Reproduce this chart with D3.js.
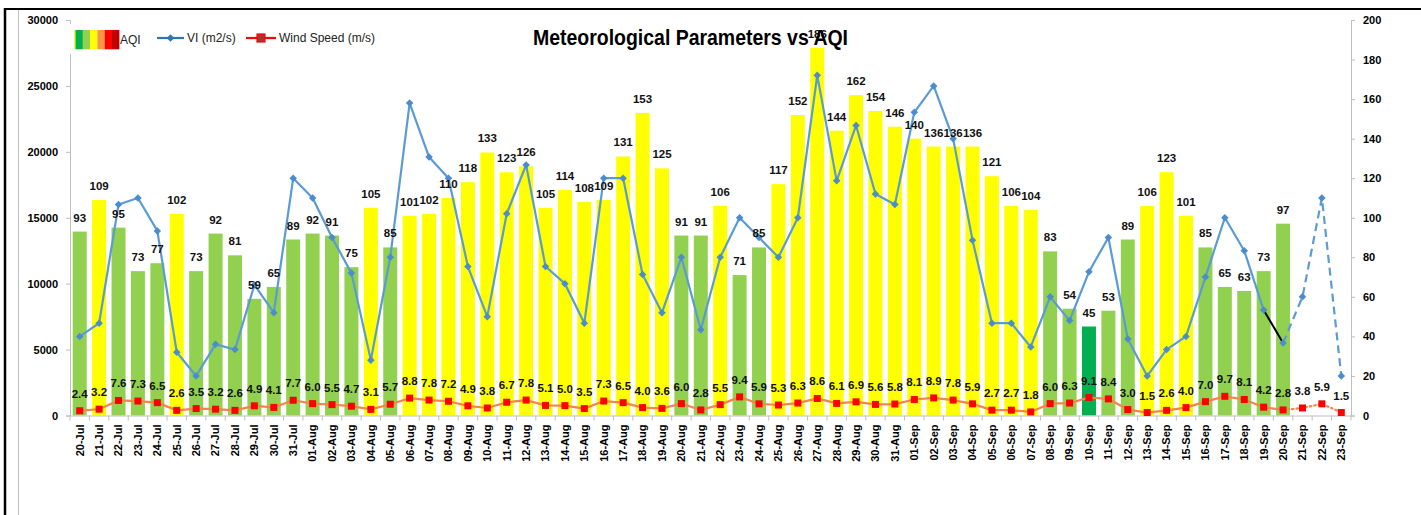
<!DOCTYPE html>
<html><head><meta charset="utf-8">
<script src="https://cdn.jsdelivr.net/npm/d3@7"></script>
<style>body{margin:0;background:#fff}svg{display:block}</style>
</head><body><svg id="c" width="1421" height="515"></svg>
<script>
const dates = ["20-Jul","21-Jul","22-Jul","23-Jul","24-Jul","25-Jul","26-Jul","27-Jul","28-Jul","29-Jul","30-Jul","31-Jul",
"01-Aug","02-Aug","03-Aug","04-Aug","05-Aug","06-Aug","07-Aug","08-Aug","09-Aug","10-Aug","11-Aug","12-Aug","13-Aug","14-Aug","15-Aug","16-Aug","17-Aug","18-Aug","19-Aug","20-Aug","21-Aug","22-Aug","23-Aug","24-Aug","25-Aug","26-Aug","27-Aug","28-Aug","29-Aug","30-Aug","31-Aug",
"01-Sep","02-Sep","03-Sep","04-Sep","05-Sep","06-Sep","07-Sep","08-Sep","09-Sep","10-Sep","11-Sep","12-Sep","13-Sep","14-Sep","15-Sep","16-Sep","17-Sep","18-Sep","19-Sep","20-Sep","21-Sep","22-Sep","23-Sep"];
const aqi = [93,109,95,73,77,102,73,92,81,59,65,89,
92,91,75,105,85,101,102,110,118,133,123,126,105,114,108,109,131,153,125,91,91,106,71,85,117,152,186,144,162,154,146,
140,136,136,136,121,106,104,83,54,45,53,89,106,123,101,85,65,63,73,97,null,null,null];
const vi = [6000,7000,16000,16500,14000,4800,3000,5400,5000,9900,7800,18000,
16500,13500,10800,4200,12000,23700,19600,18000,11300,7500,15300,19000,11300,10000,7000,18000,18000,10700,7800,12000,6500,12000,15000,13500,12000,15000,25800,17800,22000,16800,16000,
23000,25000,21000,13300,7000,7000,5200,9000,7200,10900,13500,5800,3000,5000,6000,10500,15000,12500,8000,5500,9000,16500,3000];
const wind = [2.4,3.2,7.6,7.3,6.5,2.6,3.5,3.2,2.6,4.9,4.1,7.7,
6.0,5.5,4.7,3.1,5.7,8.8,7.8,7.2,4.9,3.8,6.7,7.8,5.1,5.0,3.5,7.3,6.5,4.0,3.6,6.0,2.8,5.5,9.4,5.9,5.3,6.3,8.6,6.1,6.9,5.6,5.8,
8.1,8.9,7.8,5.9,2.7,2.7,1.8,6.0,6.3,9.1,8.4,3.0,1.5,2.6,4.0,7.0,9.7,8.1,4.2,2.8,3.8,5.9,1.5];
const leftTicks = [0,5000,10000,15000,20000,25000,30000];
const rightTicks = [0,20,40,60,80,100,120,140,160,180,200];
const lastObserved = "20-Sep";
const legendColors = ["#00B050","#92D050","#FFFF00","#F79646","#FF0000","#C00000"];

const svg = d3.select("#c");
const W = 1421, H = 515;
const x0 = 70, x1 = 1351, yTop = 20, yBot = 415.5;

// frame
svg.append("rect").attr("width",W).attr("height",H).attr("fill","#fff");
svg.append("line").attr("x1",18.5).attr("x2",18.5).attr("y1",10).attr("y2",H).attr("stroke","#BFBFBF").attr("stroke-width",1);
svg.append("line").attr("x1",4).attr("x2",W).attr("y1",9).attr("y2",9).attr("stroke","#000").attr("stroke-width",2);
svg.append("line").attr("x1",5).attr("x2",5).attr("y1",8).attr("y2",H).attr("stroke","#000").attr("stroke-width",2.5);

const x = d3.scaleBand().domain(dates).range([x0,x1]).paddingInner(0.28).paddingOuter(0.14);
const cx = d => x(d) + x.bandwidth()/2;
const yL = d3.scaleLinear().domain([0,30000]).range([yBot,yTop]);
const yR = d3.scaleLinear().domain([0,200]).range([yBot,yTop]);

const fontB = "'Liberation Sans', Arial, sans-serif";
const axisColor = "#BFBFBF";

// axes
const gL = svg.append("g").attr("transform",`translate(${x0},0)`)
  .call(d3.axisLeft(yL).tickValues(leftTicks).tickSize(4).tickPadding(8).tickFormat(d3.format("d")));
const gR = svg.append("g").attr("transform",`translate(${x1},0)`)
  .call(d3.axisRight(yR).tickValues(rightTicks).tickSize(4).tickPadding(8).tickFormat(d3.format("d")));
[gL,gR].forEach(g=>{
  g.select(".domain").attr("stroke",axisColor);
  g.selectAll(".tick line").attr("stroke",axisColor);
  g.selectAll(".tick text").attr("fill","#000").attr("font-family",fontB).attr("font-weight","bold").attr("font-size","11px");
});

// bars
const bData = dates.map((d,i)=>({d, v:aqi[i]})).filter(o=>o.v!=null);
const barColor = v => v<=50 ? "#00B050" : (v<=100 ? "#92D050" : "#FFFF00");
svg.append("g").selectAll("rect").data(bData).join("rect")
  .attr("x",o=>x(o.d)).attr("width",x.bandwidth())
  .attr("y",o=>yR(o.v)).attr("height",o=>yBot-yR(o.v))
  .attr("fill",o=>barColor(o.v));

// x axis
const gX = svg.append("g").attr("transform",`translate(0,${yBot})`)
  .call(d3.axisBottom(x).tickSize(0).tickPadding(0));
gX.select(".domain").attr("stroke",axisColor);
gX.selectAll(".tick text").attr("transform","rotate(-90)").attr("text-anchor","end")
  .attr("x",-9).attr("y",0).attr("dy","0.35em").attr("dx",0)
  .attr("fill","#000").attr("font-family",fontB).attr("font-weight","bold").attr("font-size","11px");
const step = x.step();
svg.append("g").selectAll("line").data(dates.concat(["__end"])).join("line")
  .attr("x1",(d,i)=> x0 + i*step).attr("x2",(d,i)=> x0 + i*step)
  .attr("y1",yBot).attr("y2",yBot+5).attr("stroke",axisColor);

// VI line
const viData = dates.map((d,i)=>({d, v:vi[i]}));
const li = dates.indexOf(lastObserved);
const line = d3.line().x(o=>cx(o.d)).y(o=>yL(o.v));
svg.append("path").datum(viData.slice(0,li)).attr("d",line)
  .attr("fill","none").attr("stroke","#5B9BD5").attr("stroke-width",2.2).attr("stroke-linejoin","round");
svg.append("path").datum(viData.slice(li-1,li+1)).attr("d",line)
  .attr("fill","none").attr("stroke","#000").attr("stroke-width",2);
svg.append("path").datum(viData.slice(li)).attr("d",line)
  .attr("fill","none").attr("stroke","#5B9BD5").attr("stroke-width",2.2).attr("stroke-dasharray","8,5");
const diamond = d3.symbol().type(d3.symbolDiamond2).size(36);
svg.append("g").selectAll("path").data(viData).join("path")
  .attr("d",diamond).attr("transform",o=>`translate(${cx(o.d)},${yL(o.v)})`)
  .attr("fill","#4A8CCF");

// wind line
const wData = dates.map((d,i)=>({d, v:wind[i]}));
const lineW = d3.line().x(o=>cx(o.d)).y(o=>yR(o.v));
svg.append("path").datum(wData.slice(0,li+1)).attr("d",lineW)
  .attr("fill","none").attr("stroke","#F4844C").attr("stroke-width",2.2);
svg.append("path").datum(wData.slice(li)).attr("d",lineW)
  .attr("fill","none").attr("stroke","#F4844C").attr("stroke-width",2.2).attr("stroke-dasharray","1.5,3").attr("stroke-linecap","round");
svg.append("g").selectAll("rect").data(wData).join("rect")
  .attr("x",o=>cx(o.d)-3.5).attr("y",o=>yR(o.v)-3.5).attr("width",7).attr("height",7)
  .attr("fill","#FF0000");

// bar labels
svg.append("g").selectAll("text").data(bData).join("text")
  .attr("x",o=>cx(o.d)).attr("y",o=>yR(o.v)-10).attr("text-anchor","middle")
  .attr("font-family",fontB).attr("font-weight","bold").attr("font-size","11.5px").attr("fill","#111")
  .text(o=>o.v);
// wind labels
svg.append("g").selectAll("text").data(wData).join("text")
  .attr("x",o=>cx(o.d)).attr("y",o=>yR(o.v)-13).attr("text-anchor","middle")
  .attr("font-family",fontB).attr("font-weight","bold").attr("font-size","11.5px").attr("fill","#111")
  .text(o=>d3.format(".1f")(o.v));

// legend
const narrow = "'Liberation Sans Narrow', 'Liberation Sans', Arial, sans-serif";
svg.append("rect").attr("x",66).attr("y",24).attr("width",300).attr("height",30).attr("fill","#fff");
const lg = svg.append("g");
lg.append("rect").attr("x",74).attr("y",30).attr("width",1.5).attr("height",19).attr("fill","#FFFF00");
legendColors.forEach((c,i)=>{
  lg.append("rect").attr("x",75.5+i*7.3).attr("y",30).attr("width",7.4).attr("height",19.3).attr("fill",c);
});
lg.append("text").attr("x",120).attr("y",44).attr("font-family",narrow).attr("font-size","12px").attr("fill","#222").text("AQI");
lg.append("line").attr("x1",157).attr("x2",184).attr("y1",38).attr("y2",38).attr("stroke","#2E75B6").attr("stroke-width",2.2);
lg.append("path").attr("d",diamond).attr("transform","translate(170.5,38)").attr("fill","#2E75B6");
lg.append("text").attr("x",187).attr("y",42).attr("font-family",narrow).attr("font-size","12px").attr("fill","#222").text("VI (m2/s)");
lg.append("line").attr("x1",246).attr("x2",276).attr("y1",38).attr("y2",38).attr("stroke","#FF0000").attr("stroke-width",2.2);
lg.append("rect").attr("x",257).attr("y",34).attr("width",8).attr("height",8).attr("fill","#A33").attr("stroke","#FF0000").attr("stroke-width",1.2);
lg.append("text").attr("x",279).attr("y",42).attr("font-family",narrow).attr("font-size","12px").attr("fill","#222").text("Wind Speed (m/s)");

// title
svg.append("text").attr("x",690.5).attr("y",45).attr("text-anchor","middle")
  .attr("font-family",narrow).attr("font-weight","bold").attr("font-size","22px").attr("fill","#000")
  .attr("textLength",315).attr("lengthAdjust","spacingAndGlyphs")
  .text("Meteorological Parameters vs AQI");
</script></body></html>
